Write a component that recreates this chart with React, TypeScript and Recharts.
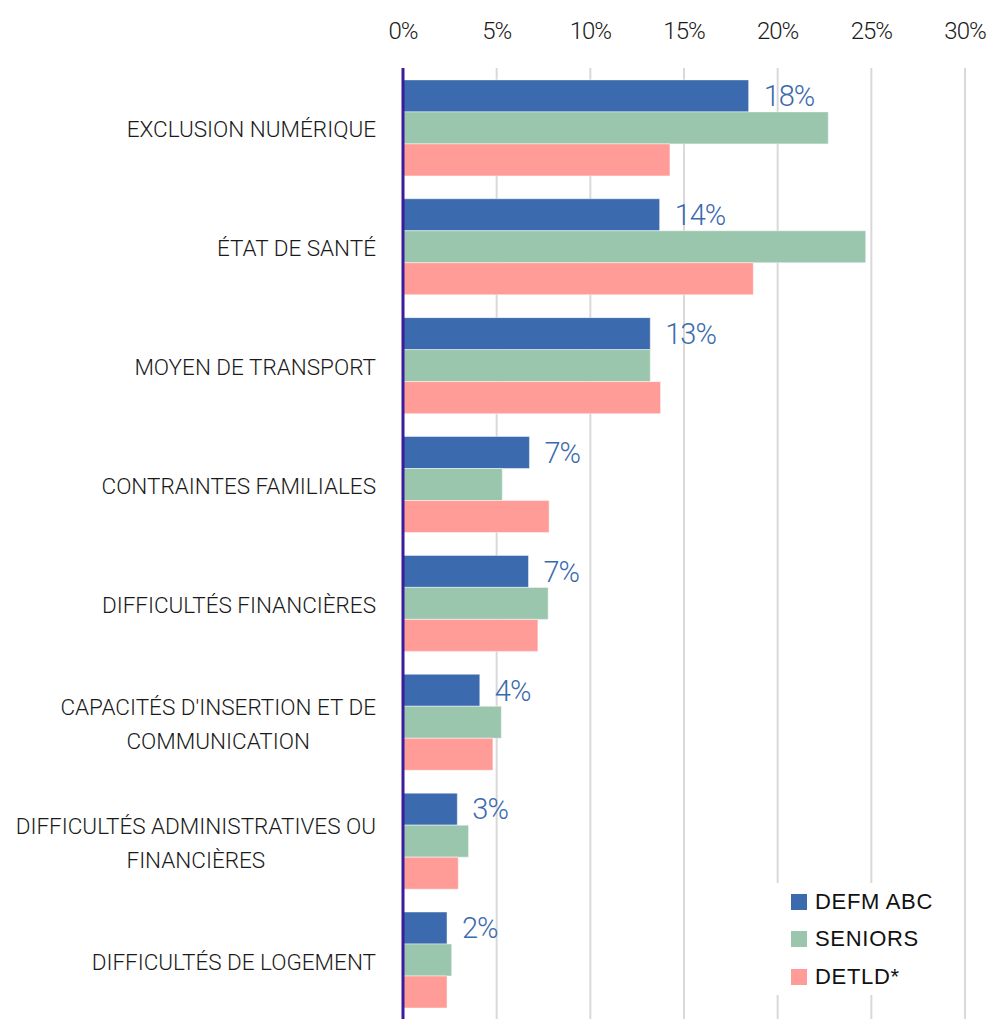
import { Bar, BarChart, CartesianGrid, LabelList, XAxis, YAxis } from "recharts";

const categories = [
  "EXCLUSION NUMÉRIQUE",
  "ÉTAT DE SANTÉ",
  "MOYEN DE TRANSPORT",
  "CONTRAINTES FAMILIALES",
  "DIFFICULTÉS FINANCIÈRES",
  "CAPACITÉS D'INSERTION ET DE|COMMUNICATION",
  "DIFFICULTÉS ADMINISTRATIVES OU|FINANCIÈRES",
  "DIFFICULTÉS DE LOGEMENT",
];

const defmAbc = [18.45, 13.7, 13.2, 6.75, 6.7, 4.1, 2.9, 2.35];
const seniors = [22.7, 24.7, 13.2, 5.3, 7.75, 5.25, 3.5, 2.6];
const detld = [14.25, 18.7, 13.75, 7.8, 7.2, 4.8, 2.95, 2.35];

const xTicks = [0, 5, 10, 15, 20, 25, 30];

const series = [
  { key: "defm", name: "DEFM ABC", color: "#3b6bae" },
  { key: "seniors", name: "SENIORS", color: "#9bc6ae" },
  { key: "detld", name: "DETLD*", color: "#ff9c97" },
];

const data = categories.map((c, i) => ({
  category: c,
  defm: defmAbc[i],
  seniors: seniors[i],
  detld: detld[i],
}));

const FONT = "Roboto, 'Noto Sans', sans-serif";

function CategoryTick({ x, y, payload }: any) {
  const lines = String(payload.value).split("|");
  const lineH = 34;
  return (
    <foreignObject x={x - 400} y={y - (lines.length * lineH) / 2 + 2} width={381} height={lines.length * lineH}>
      <div style={{ display: "flex", justifyContent: "flex-end", height: "100%" }}>
        <div
          style={{
            textAlign: "center",
            fontFamily: FONT,
            fontWeight: 300,
            fontSize: 22.5,
            lineHeight: `${lineH}px`,
            color: "#1a1a1a",
            whiteSpace: "nowrap",
          }}
        >
          {lines.map((l, i) => (
            <div key={i}>{l}</div>
          ))}
        </div>
      </div>
    </foreignObject>
  );
}

function LegendBox() {
  return (
    <div
      style={{
        position: "absolute",
        left: 776,
        top: 883,
        width: 170,
        height: 112,
        background: "#fff",
        paddingLeft: 15,
        boxSizing: "border-box",
      }}
    >
      {series.map((s) => (
        <div key={s.key} style={{ display: "flex", alignItems: "center", height: 37.5 }}>
          <span style={{ width: 16, height: 16, background: s.color, marginRight: 8, display: "inline-block" }} />
          <span
            style={{
              fontFamily: "'Liberation Sans', 'Noto Sans', sans-serif",
              fontSize: 22,
              letterSpacing: 0.7,
              color: "#111",
            }}
          >
            {s.name}
          </span>
        </div>
      ))}
    </div>
  );
}

export default function App() {
  return (
    <div style={{ width: 991, height: 1019, background: "#fff", position: "relative" }}>
      <style>{`body{margin:0}`}</style>
      <BarChart
        width={991}
        height={1019}
        data={data}
        layout="vertical"
        margin={{ top: 0, right: 26, bottom: 0, left: 0 }}
        barCategoryGap="10%"
        barGap={0}
      >
        <CartesianGrid horizontal={false} stroke="#d9d9d9" strokeWidth={2} />
        <XAxis
          type="number"
          orientation="top"
          domain={[0, 30]}
          ticks={xTicks}
          height={68}
          tickFormatter={(v: number) => `${v}%`}
          axisLine={false}
          tickLine={false}
          tickSize={0}
          tickMargin={29}
          tick={{ fontFamily: FONT, fontWeight: 300, fontSize: 24, letterSpacing: -1, fill: "#1a1a1a" }}
        />
        <YAxis
          type="category"
          dataKey="category"
          width={403}
          axisLine={{ stroke: "#3a1c9c", strokeWidth: 3 }}
          tickLine={false}
          tick={<CategoryTick />}
          interval={0}
        />
        {series.map((s) => (
          <Bar
            key={s.key}
            dataKey={s.key}
            name={s.name}
            fill={s.color}
            stroke="rgba(255,255,255,0.45)"
            strokeWidth={1}
            isAnimationActive={false}
          >
            {s.key === "defm" && (
              <LabelList
                dataKey="defm"
                position="right"
                offset={15}
                formatter={(v: any) => `${Math.round(Number(v))}%`}
                style={{ fontFamily: FONT, fontWeight: 300, fontSize: 29, letterSpacing: -1, fill: "#3b6bae" }}
              />
            )}
          </Bar>
        ))}
      </BarChart>
      <LegendBox />
    </div>
  );
}
